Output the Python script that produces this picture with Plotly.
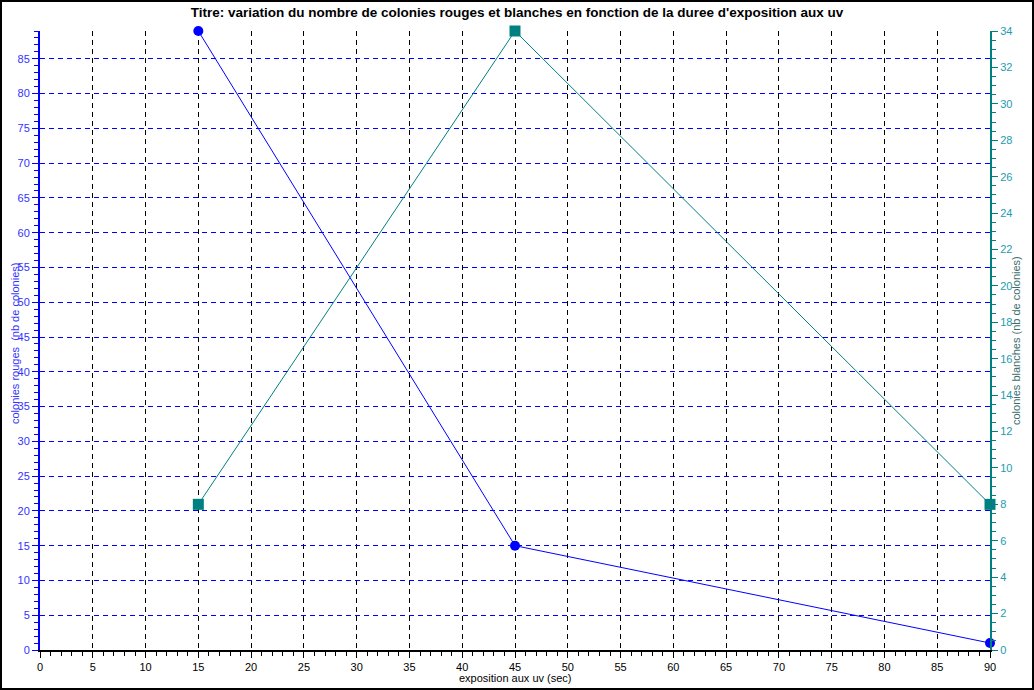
import plotly.graph_objects as go

exposure = [15, 45, 90]
rouges = [89, 15, 1]
blanches = [8, 34, 8]

title = "Titre: variation du nombre de colonies rouges et blanches en fonction de la duree d'exposition aux uv"
x_title = "exposition aux uv (sec)"
y1_title = "colonies rouges  (nb de colonies)"
y2_title = "colonies blanches (nb de colonies)"

W, H = 1034, 690
L, R, T, B = 40, 44, 31, 40
pw, ph = W - L - R, H - T - B

font = "Liberation Sans, Arial, sans-serif"


def px_x(px):
    return (px - L) / pw


def px_y(py):
    return (H - B - py) / ph


fig = go.Figure()
fig.add_trace(go.Scatter(
    x=exposure, y=rouges, mode="lines+markers", yaxis="y",
    line=dict(color="#0000ff", width=1),
    marker=dict(symbol="circle", size=10, color="#0000ff"),
    showlegend=False, cliponaxis=False))
fig.add_trace(go.Scatter(
    x=exposure, y=blanches, mode="lines+markers", yaxis="y2",
    line=dict(color="#008080", width=1),
    marker=dict(symbol="square", size=11, color="#008080"),
    showlegend=False, cliponaxis=False))

fig.update_layout(
    width=W, height=H,
    margin=dict(l=L, r=R, t=T, b=B, autoexpand=False),
    paper_bgcolor="white", plot_bgcolor="white",
    font=dict(family=font, size=11, color="black"),
    title=dict(text="<b>" + title + "</b>", x=0.5, xanchor="center",
               y=1 - 12 / H, yanchor="middle",
               font=dict(family=font, size=13.5, color="black")),
    xaxis=dict(
        range=[0, 90], dtick=5, tick0=0,
        showline=True, linecolor="black", linewidth=2,
        ticks="outside", ticklen=6, tickcolor="black", tickwidth=1,
        showgrid=True, gridcolor="black", griddash="5px,4px", gridwidth=1,
        zeroline=False,
        minor=dict(dtick=1, ticks="outside", ticklen=4, tickcolor="black", showgrid=False),
        tickfont=dict(size=11, color="black"),
    ),
    yaxis=dict(
        range=[0, 89], dtick=5, tick0=0,
        showline=True, linecolor="#0000ff", linewidth=2,
        ticks="outside", ticklen=6, tickcolor="#0000ff", tickwidth=1,
        showgrid=True, gridcolor="#0000ff", griddash="5px,4px", gridwidth=1,
        zeroline=False,
        minor=dict(dtick=1, ticks="outside", ticklen=4, tickcolor="#0000ff", showgrid=False),
        tickfont=dict(size=11, color="#3333ff"),
    ),
    yaxis2=dict(
        overlaying="y", side="right",
        range=[0, 34], dtick=2, tick0=0,
        showline=True, linecolor="#008080", linewidth=2,
        ticks="outside", ticklen=6, tickcolor="#008080", tickwidth=1,
        showgrid=False, zeroline=False,
        minor=dict(dtick=0.5, ticks="outside", ticklen=4, tickcolor="#008080", showgrid=False),
        tickfont=dict(size=11, color="#1e9bb0"),
    ),
    annotations=[
        dict(text=x_title, xref="paper", yref="paper", x=px_x(515), y=px_y(678),
             xanchor="center", yanchor="middle", showarrow=False,
             font=dict(size=11, color="black")),
        dict(text=y1_title, xref="paper", yref="paper", x=px_x(15), y=px_y(344),
             xanchor="center", yanchor="middle", showarrow=False, textangle=-90,
             font=dict(size=11, color="#3333ff")),
        dict(text=y2_title, xref="paper", yref="paper", x=px_x(1016), y=px_y(340),
             xanchor="center", yanchor="middle", showarrow=False, textangle=-90,
             font=dict(size=11, color="#3c6e6e")),
    ],
    shapes=[dict(
        type="rect", xref="paper", yref="paper",
        x0=-(L - 1) / pw, x1=1 + (R - 1) / pw,
        y0=-(B - 1) / ph, y1=1 + (T - 1) / ph,
        line=dict(color="black", width=2), fillcolor="rgba(0,0,0,0)", layer="above")],
)

fig.write_html("out.html", config={"displayModeBar": False},
               post_script="document.body.style.margin='0';document.body.style.overflow='hidden';")
